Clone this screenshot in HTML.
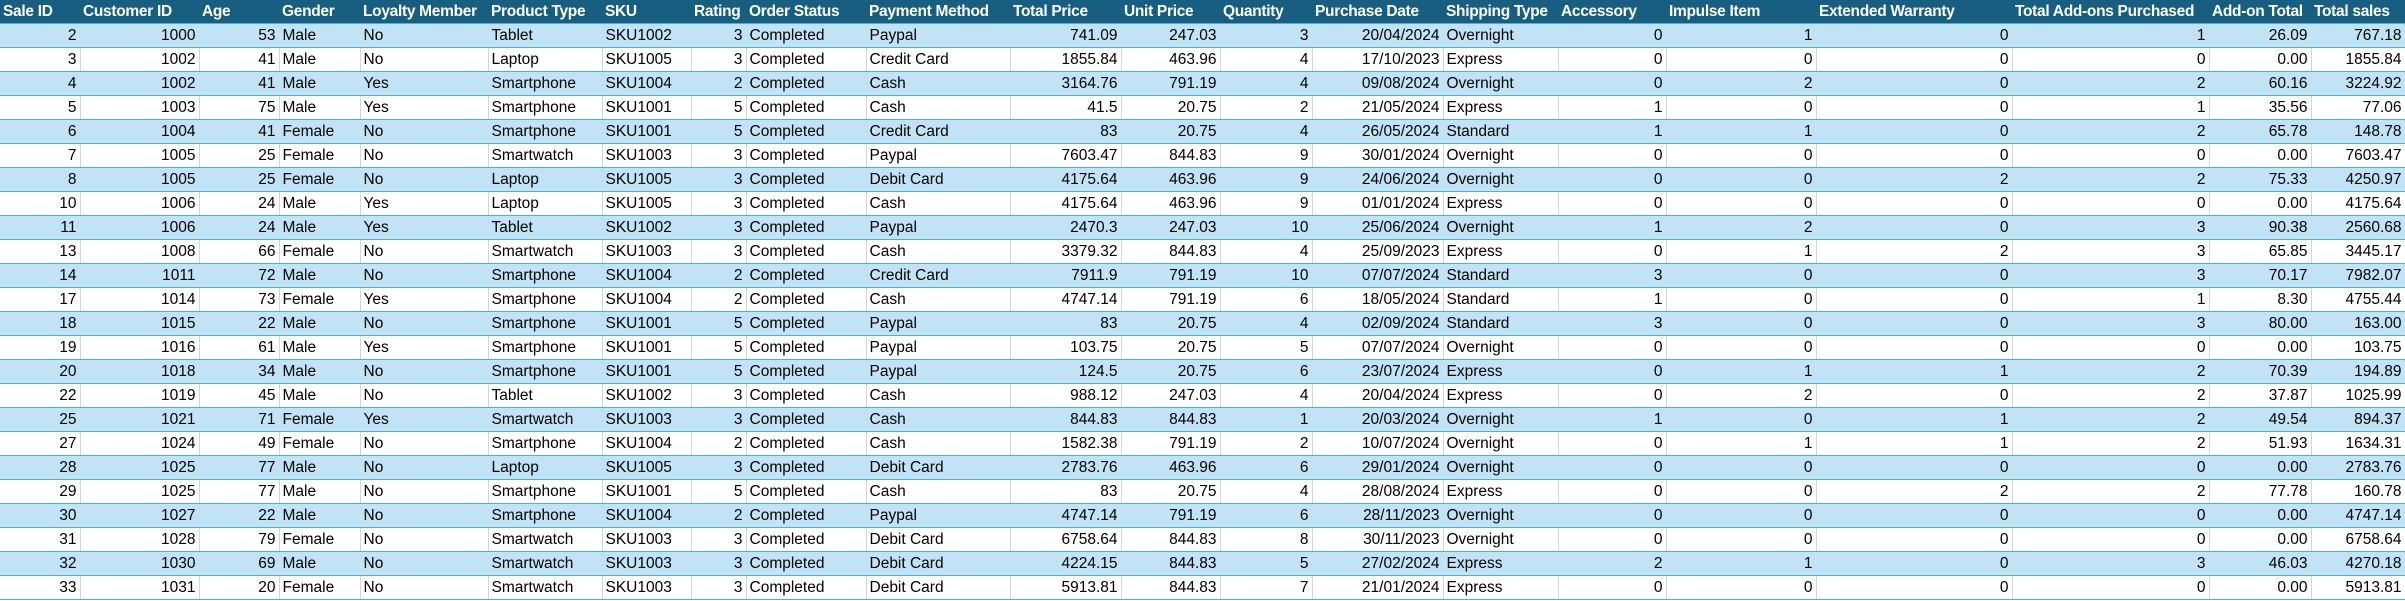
<!DOCTYPE html>
<html><head><meta charset="utf-8"><style>
html,body{margin:0;padding:0;background:#fff;width:2405px;height:601px;overflow:hidden}
table{border-collapse:collapse;table-layout:fixed;width:2405px;font-family:"Liberation Sans",sans-serif;font-size:15.5px;color:#000}
td,th{height:23px;padding:0 3px;white-space:nowrap;overflow:hidden;border-bottom:1px solid #4fb0de;border-right:1px solid #d6d6d6;line-height:23px}
th{background:#175e80;color:#fff;font-weight:bold;text-align:left;border-right:none;letter-spacing:-0.3px}
tr.s td{background:#c0e4f5;border-right-color:#c0e4f5}
td.r{text-align:right}
</style></head><body>
<table>
<colgroup id="cg"></colgroup>
<thead><tr id="hdr"></tr></thead>
<tbody id="tb"></tbody>
</table>
<script>
const widths=[80,119,80,81,128,114,89,55,120,144,111,99,92,131,115,108,150,196,197,102,94];
const headers=["Sale ID","Customer ID","Age","Gender","Loyalty Member","Product Type","SKU","Rating","Order Status","Payment Method","Total Price","Unit Price","Quantity","Purchase Date","Shipping Type","Accessory","Impulse Item","Extended Warranty","Total Add-ons Purchased","Add-on Total","Total sales"];
const rightCols=[0,1,2,7,10,11,12,13,15,16,17,18,19,20];
const rows=[
"2,1000,53,Male,No,Tablet,SKU1002,3,Completed,Paypal,741.09,247.03,3,20/04/2024,Overnight,0,1,0,1,26.09,767.18",
"3,1002,41,Male,No,Laptop,SKU1005,3,Completed,Credit Card,1855.84,463.96,4,17/10/2023,Express,0,0,0,0,0.00,1855.84",
"4,1002,41,Male,Yes,Smartphone,SKU1004,2,Completed,Cash,3164.76,791.19,4,09/08/2024,Overnight,0,2,0,2,60.16,3224.92",
"5,1003,75,Male,Yes,Smartphone,SKU1001,5,Completed,Cash,41.5,20.75,2,21/05/2024,Express,1,0,0,1,35.56,77.06",
"6,1004,41,Female,No,Smartphone,SKU1001,5,Completed,Credit Card,83,20.75,4,26/05/2024,Standard,1,1,0,2,65.78,148.78",
"7,1005,25,Female,No,Smartwatch,SKU1003,3,Completed,Paypal,7603.47,844.83,9,30/01/2024,Overnight,0,0,0,0,0.00,7603.47",
"8,1005,25,Female,No,Laptop,SKU1005,3,Completed,Debit Card,4175.64,463.96,9,24/06/2024,Overnight,0,0,2,2,75.33,4250.97",
"10,1006,24,Male,Yes,Laptop,SKU1005,3,Completed,Cash,4175.64,463.96,9,01/01/2024,Express,0,0,0,0,0.00,4175.64",
"11,1006,24,Male,Yes,Tablet,SKU1002,3,Completed,Paypal,2470.3,247.03,10,25/06/2024,Overnight,1,2,0,3,90.38,2560.68",
"13,1008,66,Female,No,Smartwatch,SKU1003,3,Completed,Cash,3379.32,844.83,4,25/09/2023,Express,0,1,2,3,65.85,3445.17",
"14,1011,72,Male,No,Smartphone,SKU1004,2,Completed,Credit Card,7911.9,791.19,10,07/07/2024,Standard,3,0,0,3,70.17,7982.07",
"17,1014,73,Female,Yes,Smartphone,SKU1004,2,Completed,Cash,4747.14,791.19,6,18/05/2024,Standard,1,0,0,1,8.30,4755.44",
"18,1015,22,Male,No,Smartphone,SKU1001,5,Completed,Paypal,83,20.75,4,02/09/2024,Standard,3,0,0,3,80.00,163.00",
"19,1016,61,Male,Yes,Smartphone,SKU1001,5,Completed,Paypal,103.75,20.75,5,07/07/2024,Overnight,0,0,0,0,0.00,103.75",
"20,1018,34,Male,No,Smartphone,SKU1001,5,Completed,Paypal,124.5,20.75,6,23/07/2024,Express,0,1,1,2,70.39,194.89",
"22,1019,45,Male,No,Tablet,SKU1002,3,Completed,Cash,988.12,247.03,4,20/04/2024,Express,0,2,0,2,37.87,1025.99",
"25,1021,71,Female,Yes,Smartwatch,SKU1003,3,Completed,Cash,844.83,844.83,1,20/03/2024,Overnight,1,0,1,2,49.54,894.37",
"27,1024,49,Female,No,Smartphone,SKU1004,2,Completed,Cash,1582.38,791.19,2,10/07/2024,Overnight,0,1,1,2,51.93,1634.31",
"28,1025,77,Male,No,Laptop,SKU1005,3,Completed,Debit Card,2783.76,463.96,6,29/01/2024,Overnight,0,0,0,0,0.00,2783.76",
"29,1025,77,Male,No,Smartphone,SKU1001,5,Completed,Cash,83,20.75,4,28/08/2024,Express,0,0,2,2,77.78,160.78",
"30,1027,22,Male,No,Smartphone,SKU1004,2,Completed,Paypal,4747.14,791.19,6,28/11/2023,Overnight,0,0,0,0,0.00,4747.14",
"31,1028,79,Female,No,Smartwatch,SKU1003,3,Completed,Debit Card,6758.64,844.83,8,30/11/2023,Overnight,0,0,0,0,0.00,6758.64",
"32,1030,69,Male,No,Smartwatch,SKU1003,3,Completed,Debit Card,4224.15,844.83,5,27/02/2024,Express,2,1,0,3,46.03,4270.18",
"33,1031,20,Female,No,Smartwatch,SKU1003,3,Completed,Debit Card,5913.81,844.83,7,21/01/2024,Express,0,0,0,0,0.00,5913.81"
];
const cg=document.getElementById('cg'),hdr=document.getElementById('hdr'),tb=document.getElementById('tb');
widths.forEach(w=>{const c=document.createElement('col');c.style.width=w+'px';cg.appendChild(c);});
headers.forEach(h=>{
  const th=document.createElement('th');th.textContent=h;
  
  
  hdr.appendChild(th);
});
rows.forEach((r,i)=>{
  const tr=document.createElement('tr');
  if(i%2===0)tr.className='s';
  
  
  r.split(',').forEach((v,j)=>{
    const td=document.createElement('td');td.textContent=v;
    if(rightCols.includes(j))td.className='r';
    
    
    tr.appendChild(td);
  });
  tb.appendChild(tr);
});
</script>
</body></html>
